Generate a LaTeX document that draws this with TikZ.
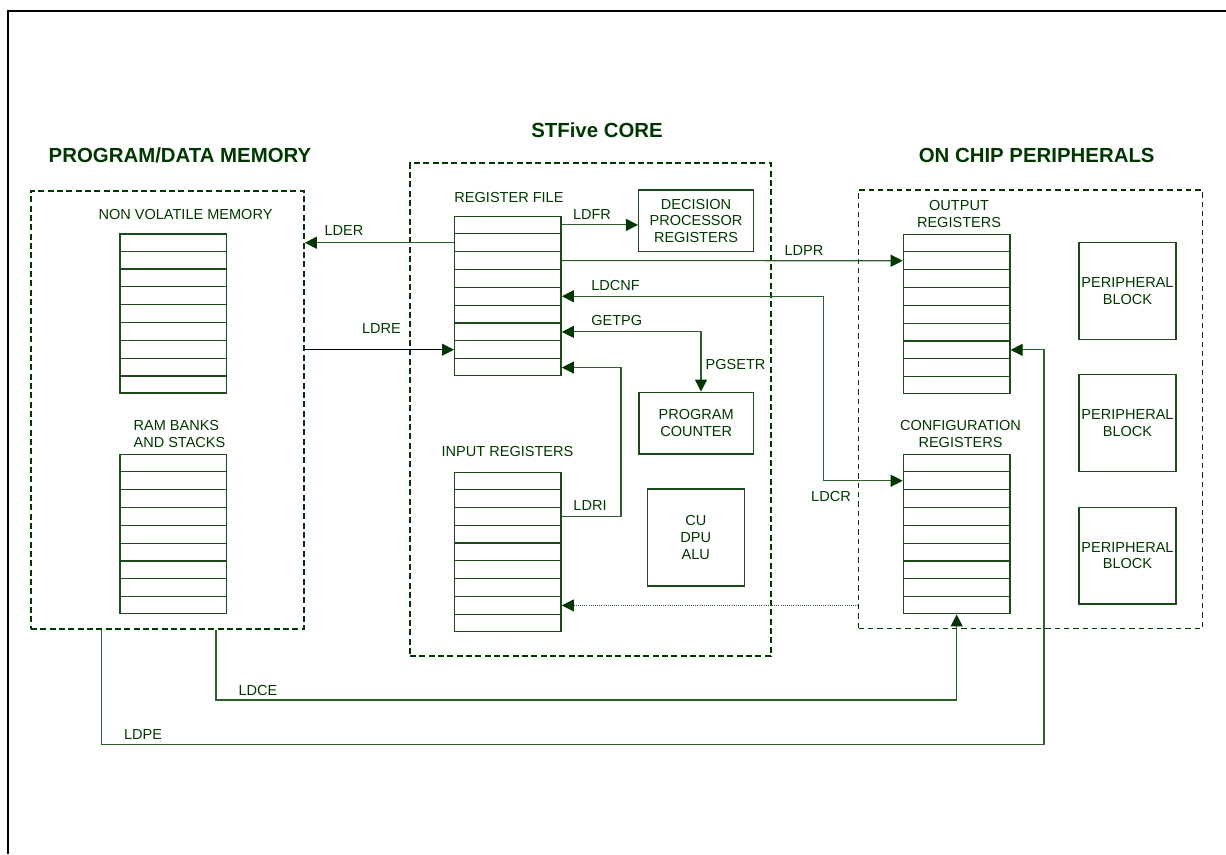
\documentclass[tikz,border=0pt]{standalone}
\usepackage{fontspec}
\setmainfont{Liberation Sans}
\usetikzlibrary{arrows.meta,calc}
\definecolor{dkg}{RGB}{0,55,0}
\definecolor{boxg}{RGB}{28,72,28}
\definecolor{lineg}{RGB}{45,95,45}
\newcommand\regstack[3]{%
  \node[stackbox, anchor=north west] (#1) at (#2,#3) {};
  \foreach \k in {1,...,8}{\draw[rowline] ($(#1.north west)!\k/9!(#1.south west)$) -- ($(#1.north east)!\k/9!(#1.south east)$);}
  \foreach \k in {1,...,9}{%
    \coordinate (#1-\k-w) at ($(#1.north west)!{(\k-0.5)/9}!(#1.south west)$);
    \coordinate (#1-\k-e) at ($(#1.north east)!{(\k-0.5)/9}!(#1.south east)$);}%
}
\tikzset{
  lbl/.style={text=dkg, font=\fontsize{10.9}{12.5}\selectfont, inner sep=0pt, align=center},
  ttl/.style={text=dkg, font=\fontsize{15.3}{18}\selectfont\bfseries, inner sep=0pt},
  stackbox/.style={draw=boxg, line width=1.1pt, minimum width=79.8pt, minimum height=119.25pt, inner sep=0pt},
  rowline/.style={draw=boxg, line width=0.9pt},
  blockbox/.style={draw=boxg, line width=1.1pt, text=dkg, font=\fontsize{10.9}{12.5}\selectfont, align=center, inner sep=0pt},
  container/.style={draw=dkg, line width=1.3pt, dash pattern=on 4.5pt off 2.5pt, inner sep=0pt},
  thincontainer/.style={draw=dkg, line width=0.8pt, dash pattern=on 4pt off 3pt, inner sep=0pt},
  conn/.style={draw=lineg, line width=0.85pt},
}
\begin{document}
\begin{tikzpicture}[x=0.75pt,y=-0.75pt, >={Triangle[length=9pt,width=9pt,fill=dkg,color=dkg]}]
\useasboundingbox (0,0) rectangle (1226,854);
% frame
\draw[line width=1.8pt, black] (7.7,854) -- (7.7,10.7) -- (1226,10.7);

% titles
\node[ttl] (tmem) at (180,155) {PROGRAM/DATA MEMORY};
\node[ttl] (tcore) at (597,130) {STFive CORE};
\node[ttl] (tper) at (1036.7,155.5) {ON CHIP PERIPHERALS};

% containers
\node[container, minimum width=204.75pt, minimum height=328.5pt] (mem) at (167.5,410) {};
\node[container, minimum width=270.5pt, minimum height=369.5pt] (core) at (590.35,409.65) {};
\node[thincontainer, minimum width=257.7pt, minimum height=329pt] (per) at (1030.5,409.35) {};

% memory side
\node[lbl] (lnv) at (185.5,214) {NON VOLATILE MEMORY};
\regstack{nv}{119.3}{233.3}
\node[lbl, align=left, anchor=west] (lram) at (133.3,434.3) {RAM BANKS\\AND STACKS};
\regstack{ram}{119.3}{454}

% core
\node[lbl] (lrf) at (509,197) {REGISTER FILE};
\regstack{rf}{454}{216}
\node[lbl] (linp) at (507.5,451.7) {INPUT REGISTERS};
\regstack{inp}{454}{471.7}
\node[blockbox, minimum width=85.95pt, minimum height=46.3pt] (dpr) at (696,220.85) {DECISION\\PROCESSOR\\REGISTERS};
\node[blockbox, minimum width=85.7pt, minimum height=46.3pt] (pc) at (696.2,423.15) {PROGRAM\\COUNTER};
\node[blockbox, minimum width=72.75pt, minimum height=72.75pt] (cu) at (695.8,537.5) {CU\\DPU\\ALU};

% peripherals
\node[lbl] (lout) at (959,214.3) {OUTPUT\\REGISTERS};
\regstack{outr}{902.7}{234}
\node[lbl] (lcfg) at (960.5,434.3) {CONFIGURATION\\REGISTERS};
\regstack{cfg}{902.7}{454}
\node[blockbox, minimum width=72.75pt, minimum height=72.4pt] (pb1) at (1127.5,291) {PERIPHERAL\\BLOCK};
\node[blockbox, minimum width=72.75pt, minimum height=72.4pt] (pb2) at (1127.5,423) {PERIPHERAL\\BLOCK};
\node[blockbox, minimum width=72.75pt, minimum height=72.4pt] (pb3) at (1127.5,555.5) {PERIPHERAL\\BLOCK};

% bend coordinates
\coordinate (cnfx) at (823.3,0);
\coordinate (pgx) at (701,0);
\coordinate (rix) at (621,0);
\coordinate (ldcex) at (216,700);
\coordinate (ldpex) at (101.7,744.3);
\coordinate (ldpeup) at (1044,744.3);

% connectors
\draw[conn,->] (rf-2-w) -- (rf-2-w -| mem.east);
\draw[conn,draw=black,->] (mem.east |- rf-8-w) -- (rf-8-w);
\draw[conn,->] (rf-1-e) -- (rf-1-e -| dpr.west);
\draw[conn,->] (rf-3-e) -- (outr-2-w);
\draw[conn,<->] (rf-5-e) -- (rf-5-e -| cnfx) -- (cnfx |- cfg-2-w) -- (cfg-2-w);
\draw[conn,<->] (rf-7-e) -- (rf-7-e -| pgx) -- (pgx |- pc.north);
\draw[conn,->] (inp-3-e) -- (inp-3-e -| rix) -- (rix |- rf-9-e) -- (rf-9-e);
\draw[draw=lineg, line width=0.6pt, densely dotted, ->] (per.west |- inp-8-e) -- (inp-8-e);
\draw[conn,->] (mem.south -| ldcex) -- (ldcex) -- (ldcex -| cfg.south) -- (cfg.south);
\draw[conn,->] (mem.south -| ldpex) -- (ldpex) -- (ldpeup) -- (ldpeup |- outr-7-e) -- (outr-7-e);

% connector labels
\node[lbl] (tlder) at (344,230) {LDER};
\node[lbl] (tldre) at (381.5,328.3) {LDRE};
\node[lbl] (tldfr) at (592,214) {LDFR};
\node[lbl] (tldpr) at (804,250) {LDPR};
\node[lbl] (tldcnf) at (615.5,285) {LDCNF};
\node[lbl] (tgetpg) at (616.7,320) {GETPG};
\node[lbl] (tpgsetr) at (735.5,364) {PGSETR};
\node[lbl] (tldri) at (590,505) {LDRI};
\node[lbl] (tldcr) at (831,496) {LDCR};
\node[lbl] (tldce) at (258,690) {LDCE};
\node[lbl] (tldpe) at (143,734.3) {LDPE};
\end{tikzpicture}
\end{document}
